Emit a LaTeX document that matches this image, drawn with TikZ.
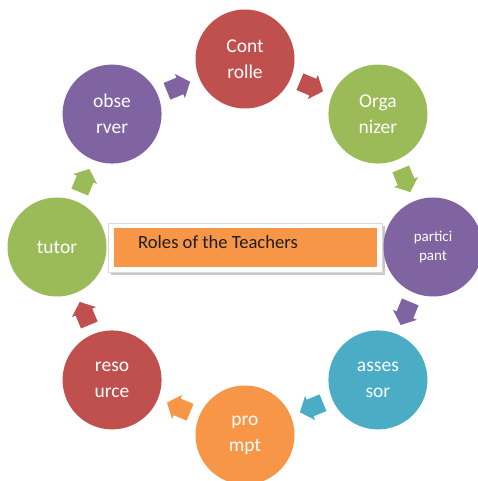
\documentclass[tikz,border=0pt]{standalone}
\usepackage{fontspec}
\setmainfont{Carlito}
\usetikzlibrary{calc}
\definecolor{cred}{HTML}{C0504D}
\definecolor{cgreen}{HTML}{9BBB59}
\definecolor{cpurple}{HTML}{8064A2}
\definecolor{cteal}{HTML}{4BACC6}
\definecolor{corange}{HTML}{F79646}
\definecolor{ctext}{HTML}{1E1E1E}
\tikzset{
  circ/.style={circle, minimum size=99pt, inner sep=0pt, text=white, align=center,
    font=\fontsize{19.5}{26}\selectfont},
}
\newcommand{\blockarr}[3]{% color, coordinate name, angle
  \fill[#1, shift={(#2)}, rotate=#3] (-12.5,-9) -- (1.5,-9) -- (1.5,-13) -- (12.5,0) -- (1.5,13) -- (1.5,9) -- (-12.5,9) -- cycle;}
\begin{document}
\begin{tikzpicture}[x=1pt,y=1pt]
\useasboundingbox (0,0) rectangle (478,481);
% title box
\fill[black!22] (111,206) rectangle (385,255);
\draw[white!85!black, fill=white, line width=0.6pt] (108,209) rectangle (382,258);
\fill[corange] (114,214) rectangle (377,253);
\node[anchor=west, text=ctext, font=\fontsize{18.6}{22}\selectfont, inner sep=0pt] (title) at (138,239) {Roles of the Teachers};
\begin{scope}[shift={(245,234)}]
\node[circ, fill=cred]    (n1) at (90:188)   {Cont\\rolle};
\node[circ, fill=cgreen]  (n2) at (45:188)   {Orga\\nizer};
\node[circ, fill=cpurple, font=\fontsize{15}{19}\selectfont] (n3) at (0:188) {partici\\pant};
\node[circ, fill=cteal]   (n4) at (-45:188)  {asses\\sor};
\node[circ, fill=corange] (n5) at (-90:188)  {pro\\mpt};
\node[circ, fill=cred]    (n6) at (-135:188) {reso\\urce};
\node[circ, fill=cgreen]  (n7) at (180:188)  {tutor};
\node[circ, fill=cpurple] (n8) at (135:188)  {obse\\rver};
\end{scope}
\coordinate (m1) at ($(n8)!0.5!(n1)$);
\coordinate (m2) at ($(n1)!0.5!(n2)$);
\coordinate (m3) at ($(n2)!0.5!(n3)$);
\coordinate (m4) at ($(n3)!0.5!(n4)$);
\coordinate (m5) at ($(n4)!0.5!(n5)$);
\coordinate (m6) at ($(n5)!0.5!(n6)$);
\coordinate (m7) at ($(n6)!0.5!(n7)$);
\coordinate (m8) at ($(n7)!0.5!(n8)$);
\blockarr{cpurple}{m1}{22.5}
\blockarr{cred}{m2}{-22.5}
\blockarr{cgreen}{m3}{-67.5}
\blockarr{cpurple}{m4}{-112.5}
\blockarr{cteal}{m5}{-157.5}
\blockarr{corange}{m6}{157.5}
\blockarr{cred}{m7}{112.5}
\blockarr{cgreen}{m8}{67.5}
\end{tikzpicture}
\end{document}
